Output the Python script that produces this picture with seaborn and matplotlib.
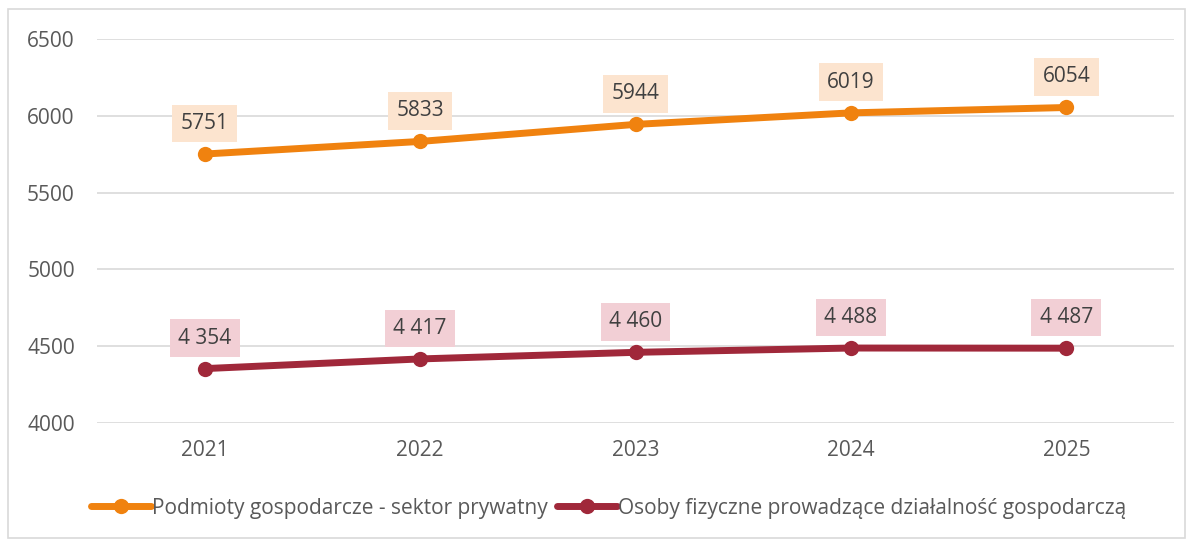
import pandas as pd
import matplotlib.pyplot as plt
import matplotlib.patches as patches
import seaborn as sns

# chart data
years = ['2021', '2022', '2023', '2024', '2025']
podmioty = [5751, 5833, 5944, 6019, 6054]
osoby = [4354, 4417, 4460, 4488, 4487]
series_names = ['Podmioty gospodarcze - sektor prywatny',
                'Osoby fizyczne prowadzące działalność gospodarczą']
y_ticks = [4000, 4500, 5000, 5500, 6000, 6500]

line_colors = ['#F0820F', '#A0283A']
box_colors = ['#FCE4CF', '#F2CFD5']

df = pd.DataFrame({
    'rok': years * 2,
    'wartosc': podmioty + osoby,
    'seria': [series_names[0]] * len(years) + [series_names[1]] * len(years),
})

sns.set_theme(style='white')
plt.rcParams['font.family'] = ['Open Sans', 'DejaVu Sans']

fig = plt.figure(figsize=(11.89, 5.40), dpi=100)
ax = fig.add_axes([0.0816, 0.2167, 0.9058, 0.7111])

sns.lineplot(data=df, x='rok', y='wartosc', hue='seria', palette=line_colors,
             marker='o', markersize=11, markeredgewidth=0, linewidth=5,
             sort=False, ax=ax)

# data labels with coloured boxes
def fmt_space(v):
    return '{:,}'.format(v).replace(',', ' ')

for i, y in enumerate(years):
    ax.annotate(str(podmioty[i]), (i, podmioty[i]), xytext=(0, 22),
                textcoords='offset points', ha='center', va='center',
                fontsize=15, color='#404040',
                bbox=dict(boxstyle='square,pad=0.4', fc=box_colors[0], ec='none'))
    ax.annotate(fmt_space(osoby[i]), (i, osoby[i]), xytext=(0, 22),
                textcoords='offset points', ha='center', va='center',
                fontsize=15, color='#404040',
                bbox=dict(boxstyle='square,pad=0.4', fc=box_colors[1], ec='none'))

ax.set_xlim(-0.5, len(years) - 0.5)
ax.set_ylim(4000, 6500)
ax.set_yticks(y_ticks)
ax.yaxis.grid(True, color='#D9D9D9', linewidth=1.2)
ax.set_axisbelow(True)
for s in ax.spines.values():
    s.set_visible(False)
ax.tick_params(axis='both', labelsize=15, labelcolor='#595959', length=0)
ax.tick_params(axis='x', pad=12)
ax.tick_params(axis='y', pad=16)
ax.set_xlabel('')
ax.set_ylabel('')

handles, labels = ax.get_legend_handles_labels()
ax.legend(handles, labels, loc='center', bbox_to_anchor=(0.475, -0.222),
          ncol=2, frameon=False, fontsize=15, labelcolor='#595959',
          handlelength=2.9, handletextpad=0.05, columnspacing=0.4)

# outer light border
fig.patches.append(patches.Rectangle((0.007, 0.003), 0.99, 0.98,
                                     transform=fig.transFigure, fill=False,
                                     ec='#D9D9D9', lw=1.2))

fig.savefig('out.png', dpi=100)
